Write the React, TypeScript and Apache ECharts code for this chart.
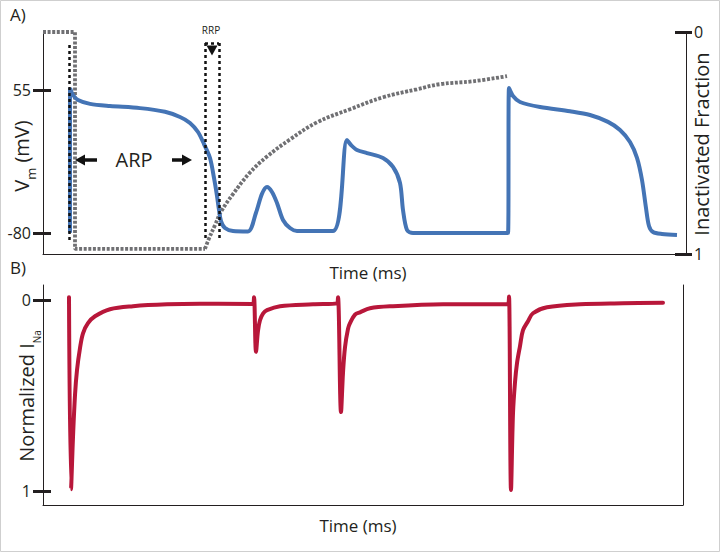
import React, { useEffect, useRef } from "react";
import * as echarts from "echarts";

// ---- Panel A: membrane potential (mV) vs time ----
const vmTime = [27, 27, 30, 35, 47, 67, 97, 122, 137, 147, 155, 161, 167, 171, 174, 176, 178, 182, 190, 205, 213, 219, 224, 229, 234, 240, 247, 254, 290, 304, 308, 314, 324, 340, 350, 357, 360, 364, 370, 397, 465, 466, 470, 477, 497, 527, 547, 565, 577, 587, 594, 599, 603, 606, 610, 619, 634];
const vmValues = [-80, 57, 50.4, 45.7, 42, 40, 38, 34.5, 29.6, 24, 15.4, 4, -9.2, -28, -45, -58.4, -68.8, -75.4, -78.2, -78.6, -61, -43, -36.6, -41.3, -51.7, -67.8, -75.4, -78.2, -78.2, 7.8, 3.1, -1.6, -4.5, -9.2, -17.7, -32.8, -58.4, -77.3, -80.1, -80.1, -80.1, 57, 49.5, 43.8, 39, 35, 31.5, 25, 17.3, 6, -9, -30, -56.5, -73.5, -79.2, -81, -82];

// ---- Panel A: inactivated fraction (right axis) ----
const inactStepTime = [0, 32, 32, 162];
const inactStepValues = [0, 0, 0.977, 0.977];
const inactRecoveryTime = [162, 166, 172, 178, 190, 207, 224, 247, 274, 307, 340, 374, 397, 430, 464];
const inactRecoveryValues = [0.977, 0.93, 0.87, 0.81, 0.73, 0.633, 0.561, 0.484, 0.407, 0.348, 0.294, 0.258, 0.235, 0.222, 0.199];

// ---- Panel B: normalized I_Na ----
const inaTime = [26, 28, 30, 32, 34, 37, 40, 45, 52, 67, 90, 124, 157, 210, 211, 213, 215, 217, 220, 224, 237, 270, 294, 295, 298, 300, 302, 305, 307, 312, 317, 327, 350, 400, 465, 466, 468, 470, 472, 474, 477, 480, 485, 490, 504, 537, 580, 620];
const inaValues = [-0.016, 0.99, 0.717, 0.497, 0.366, 0.251, 0.173, 0.12, 0.084, 0.047, 0.031, 0.021, 0.018, 0.02, -0.016, 0.27, 0.16, 0.105, 0.07, 0.052, 0.031, 0.021, 0.016, -0.016, 0.586, 0.38, 0.246, 0.15, 0.12, 0.075, 0.063, 0.042, 0.031, 0.021, 0.02, -0.02, 0.995, 0.592, 0.43, 0.33, 0.24, 0.157, 0.11, 0.068, 0.037, 0.021, 0.016, 0.013];

// ---- Tick labels ----
const vmTicks = [55, -80];
const inactTicks = [0, 1];
const inaTicks = [0, 1];

// ---- Annotation positions (time, mV) ----
const arpLabelTime = 91;
const annotationLevel = -11;

const FONT = "'Open Sans', sans-serif";
const INK = "#231f20";
const BLUE = "#4474b5";
const RED = "#b8173a";
const GRAY = "#707073";

const zip = (a: number[], b: number[]) => a.map((v, i) => [v, b[i]]);

export default function App() {
  const ref = useRef<HTMLDivElement>(null);
  useEffect(() => {
    if (!ref.current) return;
    const chart = echarts.init(ref.current, undefined, { renderer: "svg" });
    const axisLine = { show: true, onZero: false, lineStyle: { color: INK, width: 1 } };
    const noLine = { show: false, onZero: false };
    const dotted = { color: "#111", width: 2.5, type: [3, 3] as number[] };
    const arrow = { color: "#111", width: 3.5, type: "solid" as const };
    const option: any = {
      animation: false,
      backgroundColor: "#fff",
      textStyle: { fontFamily: FONT },
      grid: [
        { left: 43, right: 35, top: 32, height: 222 },
        { left: 43, right: 38, top: 285, height: 220 },
      ],
      xAxis: [
        { gridIndex: 0, type: "value", min: 0, max: 643, axisLine, axisTick: { show: false }, axisLabel: { show: false }, splitLine: { show: false } },
        { gridIndex: 1, type: "value", min: 0, max: 640, axisLine, axisTick: { show: false }, axisLabel: { show: false }, splitLine: { show: false } },
      ],
      yAxis: [
        { gridIndex: 0, type: "value", position: "left", min: -100, max: 110, axisLine, axisTick: { show: false }, axisLabel: { show: false }, splitLine: { show: false } },
        { gridIndex: 0, type: "value", position: "right", inverse: true, min: 0, max: 1, axisLine, axisTick: { show: false }, axisLabel: { show: false }, splitLine: { show: false } },
        {
          gridIndex: 0, type: "value", position: "left", offset: -8, min: -100, max: 110,
          axisLine: noLine, splitLine: { show: false },
          axisTick: { show: true, customValues: vmTicks, length: 18, lineStyle: { color: INK, width: 3 } },
          axisLabel: { show: true, customValues: vmTicks, margin: 20, color: INK, fontSize: 16, fontFamily: FONT },
        },
        {
          gridIndex: 0, type: "value", position: "right", offset: -11, inverse: true, min: 0, max: 1,
          axisLine: noLine, splitLine: { show: false },
          axisTick: { show: true, customValues: inactTicks, length: 17, lineStyle: { color: INK, width: 3 } },
          axisLabel: { show: true, customValues: inactTicks, margin: 19, color: INK, fontSize: 16, fontFamily: FONT },
        },
        { gridIndex: 1, type: "value", position: "left", inverse: true, min: -0.08, max: 1.073, axisLine, axisTick: { show: false }, axisLabel: { show: false }, splitLine: { show: false } },
        { gridIndex: 1, type: "value", position: "right", min: 0, max: 1, axisLine, axisTick: { show: false }, axisLabel: { show: false }, splitLine: { show: false } },
        {
          gridIndex: 1, type: "value", position: "left", offset: -8, inverse: true, min: -0.08, max: 1.073,
          axisLine: noLine, splitLine: { show: false },
          axisTick: { show: true, customValues: inaTicks, length: 18, lineStyle: { color: INK, width: 3 } },
          axisLabel: { show: true, customValues: inaTicks, margin: 20, color: INK, fontSize: 16, fontFamily: FONT },
        },
      ],
      series: [
        {
          type: "line", xAxisIndex: 0, yAxisIndex: 1, data: zip(inactStepTime, inactStepValues),
          showSymbol: false, clip: false, lineStyle: { color: GRAY, width: 3.8, type: [3, 1.6] }, z: 2,
        },
        {
          type: "line", xAxisIndex: 0, yAxisIndex: 1, data: zip(inactRecoveryTime, inactRecoveryValues),
          showSymbol: false, clip: false, smooth: 0.4, lineStyle: { color: GRAY, width: 3.8, type: [3, 1.6] }, z: 2,
        },
        {
          type: "line", xAxisIndex: 0, yAxisIndex: 0, data: zip(vmTime, vmValues),
          showSymbol: false, clip: false, smooth: 0.3, lineStyle: { color: BLUE, width: 4 }, z: 3,
        },
        {
          type: "line", xAxisIndex: 0, yAxisIndex: 0, data: [], silent: true, z: 4,
          markLine: {
            silent: true, animation: false, symbol: ["none", "none"], label: { show: false },
            lineStyle: dotted,
            data: [
              [{ coord: [26, 97.7] }, { coord: [26, -88.6] }],
              [{ coord: [162, 99.6] }, { coord: [162, -84.9] }],
              [{ coord: [176, 99.6] }, { coord: [176, -84.9] }],
              [{ coord: [162, 99.6] }, { coord: [176, 99.6] }],
            ],
          },
        },
        {
          type: "line", xAxisIndex: 0, yAxisIndex: 0, data: [], silent: true, z: 5,
          markLine: {
            silent: true, animation: false, symbol: ["none", "triangle"], symbolSize: [11, 10], label: { show: false },
            lineStyle: arrow,
            data: [
              [{ coord: [54, annotationLevel] }, { coord: [37, annotationLevel] }],
              [{ coord: [129, annotationLevel] }, { coord: [144, annotationLevel] }],
              [{ coord: [169, 96], lineStyle: { width: 2.5 }, symbolSize: [7, 6] }, { coord: [169, 92.5] }],
            ],
          },
        },
        {
          type: "line", xAxisIndex: 1, yAxisIndex: 4, data: zip(inaTime, inaValues),
          showSymbol: false, clip: false, smooth: 0.35, lineStyle: { color: RED, width: 4, cap: "round" }, z: 3,
        },
      ],
      graphic: [
        { type: "rect", silent: true, z: -10, shape: { x: 0.5, y: 0.5, width: 719, height: 551 }, style: { fill: "none", stroke: "#cfcfcf", lineWidth: 1 } },
        { type: "text", x: 10, y: 6, style: { text: "A)", font: `17px ${FONT}`, fill: INK } },
        { type: "text", x: 10, y: 259, style: { text: "B)", font: `17px ${FONT}`, fill: INK } },
        { type: "text", x: 211, y: 30, style: { text: "RRP", font: `10px ${FONT}`, fill: INK, align: "center", verticalAlign: "middle" } },
        { type: "text", x: 43 + arpLabelTime, y: 159, style: { text: "ARP", font: `20px ${FONT}`, fill: INK, align: "center", verticalAlign: "middle" } },
        { type: "text", x: 368, y: 272, style: { text: "Time (ms)", font: `17px ${FONT}`, fill: INK, align: "center", verticalAlign: "middle" } },
        { type: "text", x: 358, y: 525, style: { text: "Time (ms)", font: `17px ${FONT}`, fill: INK, align: "center", verticalAlign: "middle" } },
        { type: "text", x: 701, y: 144, rotation: Math.PI / 2, style: { text: "Inactivated Fraction", font: `20px ${FONT}`, fill: INK, align: "center", verticalAlign: "middle" } },
        {
          type: "text", x: 24, y: 156, rotation: Math.PI / 2,
          style: {
            text: "{a|V}{b|m}{a| (mV)}", align: "center", verticalAlign: "middle", fill: INK,
            rich: {
              a: { fontSize: 20, fontFamily: FONT, lineHeight: 26, verticalAlign: "top", fill: INK },
              b: { fontSize: 13, fontFamily: FONT, lineHeight: 8, verticalAlign: "bottom", fill: INK },
            },
          },
        },
        {
          type: "text", x: 29, y: 396, rotation: Math.PI / 2,
          style: {
            text: "{a|Normalized I}{b|Na}", align: "center", verticalAlign: "middle", fill: INK,
            rich: {
              a: { fontSize: 20, fontFamily: FONT, lineHeight: 26, verticalAlign: "top", fill: INK },
              b: { fontSize: 10, fontFamily: FONT, lineHeight: 4, verticalAlign: "bottom", fill: INK },
            },
          },
        },
      ],
    };
    chart.setOption(option);
    return () => chart.dispose();
  }, []);
  return <div ref={ref} style={{ position: "fixed", left: 0, top: 0, width: 721, height: 553, background: "#fff" }} />;
}
